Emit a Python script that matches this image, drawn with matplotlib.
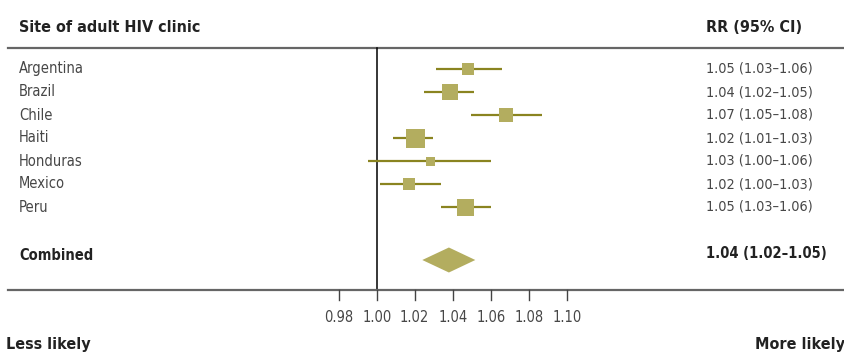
import matplotlib.pyplot as plt
from matplotlib.patches import Polygon

# Data
sites = ["Argentina", "Brazil", "Chile", "Haiti", "Honduras", "Mexico", "Peru"]
rr = [1.048, 1.0386, 1.068, 1.0199, 1.0278, 1.0169, 1.0466]
ci_low = [1.0311, 1.0249, 1.0496, 1.0087, 0.9954, 1.0017, 1.0338]
ci_high = [1.0658, 1.0512, 1.0872, 1.0298, 1.0600, 1.0337, 1.0600]
weights = [12, 16, 14, 19, 9, 12, 17]  # box size (px) ~ study weight
labels = ["1.05 (1.03\u20131.06)", "1.04 (1.02\u20131.05)", "1.07 (1.05\u20131.08)",
          "1.02 (1.01\u20131.03)", "1.03 (1.00\u20131.06)", "1.02 (1.00\u20131.03)",
          "1.05 (1.03\u20131.06)"]
comb_rr, comb_lo, comb_hi = 1.038, 1.024, 1.0519
comb_label = "1.04 (1.02\u20131.05)"
ticks = [0.98, 1.00, 1.02, 1.04, 1.06, 1.08, 1.10]

W, H = 845, 356
fill = "#b3ad5f"
line_c = "#8a8420"
grey_txt = "#474747"
dark_txt = "#222222"

# condensed face to get close to the narrow original typeface
plt.rcParams["font.family"] = ["DejaVu Sans"]
plt.rcParams["font.stretch"] = "condensed"

fig = plt.figure(figsize=(W / 100, H / 100), dpi=100)
ax = fig.add_axes([0, 0, 1, 1])
# x in RR units: 1.00 sits at 376.7 px, 1900 px per unit; y in pixels
ax.set_xlim(1 - 376.7 / 1900, 1 + (W - 376.7) / 1900)
ax.set_ylim(H, 0)
ax.axis("off")

def fx(px):
    return px / W

tr = ax.get_yaxis_transform()  # x axes-fraction, y data(px)

row_y = [69 + 23 * i for i in range(len(sites))]
comb_y = 260

# headers
ax.text(fx(19), 27, "Site of adult HIV clinic", transform=tr, fontsize=11.5,
        fontweight="bold", color=dark_txt, va="center")
ax.text(fx(706), 27, "RR (95% CI)", transform=tr, fontsize=11.5,
        fontweight="bold", color=dark_txt, va="center")
ax.plot([fx(8), 1], [48, 48], transform=tr, color="#666666", lw=1.6)

# reference line at RR = 1
ax.plot([1, 1], [48, 290], color="black", lw=1.1)

# study rows
for i, s in enumerate(sites):
    y = row_y[i]
    ax.plot([ci_low[i], ci_high[i]], [y, y], color=line_c, lw=1.6,
            solid_capstyle="butt")
    ax.plot(rr[i], y, marker="s", markersize=weights[i] * 0.72,
            color=fill, markeredgewidth=0)
    ax.text(fx(19), y, s, transform=tr, fontsize=10.5, color=grey_txt, va="center")
    ax.text(fx(706), y, labels[i], transform=tr, fontsize=10.4, color=grey_txt,
            va="center")

# combined estimate
ax.add_patch(Polygon([(comb_lo, comb_y), (comb_rr, comb_y - 12.5),
                      (comb_hi, comb_y), (comb_rr, comb_y + 12.5)],
                     closed=True, facecolor=fill, edgecolor="none"))
ax.text(fx(19), 255, "Combined", transform=tr, fontsize=10.5,
        fontweight="bold", color=dark_txt, va="center")
ax.text(fx(706), 254, comb_label, transform=tr, fontsize=10.5,
        fontweight="bold", color=dark_txt, va="center")

# bottom axis
ax.plot([fx(8), 1], [290, 290], transform=tr, color="#666666", lw=1.6)
for t in ticks:
    ax.plot([t, t], [290, 300], color="#444444", lw=1.0)
    ax.text(t, 317, f"{t:.2f}", fontsize=10.5, color=grey_txt, ha="center", va="center")

ax.text(fx(6), 345, "Less likely", transform=tr, fontsize=11.5,
        fontweight="bold", color=dark_txt, va="center")
ax.text(1.0, 345, "More likely", transform=tr, fontsize=11.5,
        fontweight="bold", color=dark_txt, va="center", ha="right")

fig.savefig("out.png", dpi=100)
